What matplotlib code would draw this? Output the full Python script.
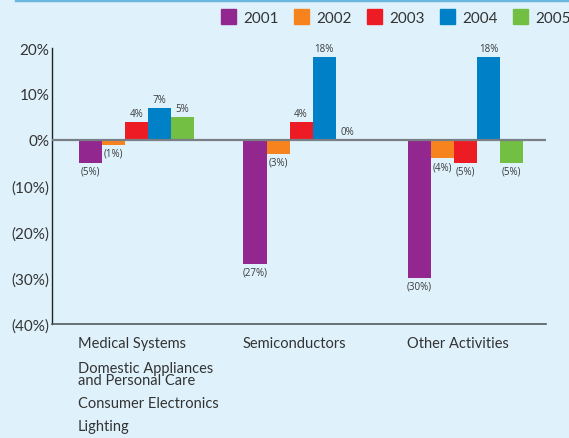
import numpy as np
import matplotlib
matplotlib.use("Agg")
import matplotlib.pyplot as plt
from matplotlib.patches import Rectangle
from matplotlib.lines import Line2D

plt.rcParams["font.family"] = ["Lato", "DejaVu Sans"]

years = ["2001", "2002", "2003", "2004", "2005"]
colors = ["#92278f", "#f7831f", "#ed1c24", "#0080c6", "#72bf44"]
groups = ["Medical Systems", "Semiconductors", "Other Activities"]
extra_labels = ["Domestic Appliances\nand Personal Care", "Consumer Electronics", "Lighting"]
values = {
    "2001": [-5, -27, -30],
    "2002": [-1, -3, -4],
    "2003": [4, 4, -5],
    "2004": [7, 18, 18],
    "2005": [5, 0, -5],
}
yticks = [20, 10, 0, -10, -20, -30, -40]

W, H = 569, 439
bg = "#dff2fc"
text_col = "#333333"


def pct(v):
    return f"{v}%" if v >= 0 else f"({-v}%)"


fig = plt.figure(figsize=(W / 100, H / 100), dpi=100, facecolor=bg)
ax = fig.add_axes([52 / W, 114 / H, 494 / W, 276 / H])
ax.set_facecolor(bg)

bw = 0.14
x = np.arange(len(groups))
for j, yr in enumerate(years):
    pos = x + (j - 2) * bw
    bars = ax.bar(pos, values[yr], width=bw, color=colors[j], zorder=2)
    for b, v in zip(bars, values[yr]):
        up = v >= 0
        ax.annotate(pct(v), (b.get_x() + bw / 2, v), xytext=(0, 2 if up else -2),
                    textcoords="offset points", ha="center",
                    va="bottom" if up else "top", fontsize=7,
                    family="Open Sans", color="#3a3a3a")

ax.axhline(0, color="#7a7f85", lw=1.6, zorder=3)
ax.set_xlim(-0.514, 2.489)
ax.set_ylim(-40, 20)
ax.set_yticks(yticks)
ax.set_yticklabels([pct(t) for t in yticks], fontsize=11, color=text_col)
ax.tick_params(axis="y", length=0, pad=2)
ax.set_xticks([])
for s in ["top", "right"]:
    ax.spines[s].set_visible(False)
ax.spines["left"].set_color("#222222")
ax.spines["left"].set_linewidth(1.0)
ax.spines["bottom"].set_color("#555a60")
ax.spines["bottom"].set_linewidth(1.2)

# category labels, left aligned at each group's first bar
for i, g in enumerate(groups):
    ax.annotate(g, (i - 2.5 * bw, 0), xycoords=("data", "axes fraction"),
                xytext=(-1, -19), textcoords="offset pixels", ha="left",
                va="center", fontsize=10.5, color=text_col)
offsets = [-50, -79, -102]
for lbl, off in zip(extra_labels, offsets):
    ax.annotate(lbl, (-2.5 * bw, 0), xycoords=("data", "axes fraction"),
                xytext=(-1, off), textcoords="offset pixels", ha="left",
                va="center", fontsize=10.5, color=text_col, linespacing=0.85)

# legend across the top
sq_x = [221, 294, 367, 440, 513]
for xp, yr, c in zip(sq_x, years, colors):
    fig.add_artist(Rectangle((xp / W, 1 - 25 / H), 15 / W, 15 / H,
                             transform=fig.transFigure, color=c))
    fig.text((xp + 22) / W, 1 - 19 / H, yr, ha="left", va="center",
             fontsize=11, color=text_col)

# top rule
fig.add_artist(Line2D([16 / W, 1], [1 - 1 / H, 1 - 1 / H], transform=fig.transFigure,
                      color="#6cb8dd", lw=2.5))

fig.savefig("out.png", dpi=100, facecolor=bg)
